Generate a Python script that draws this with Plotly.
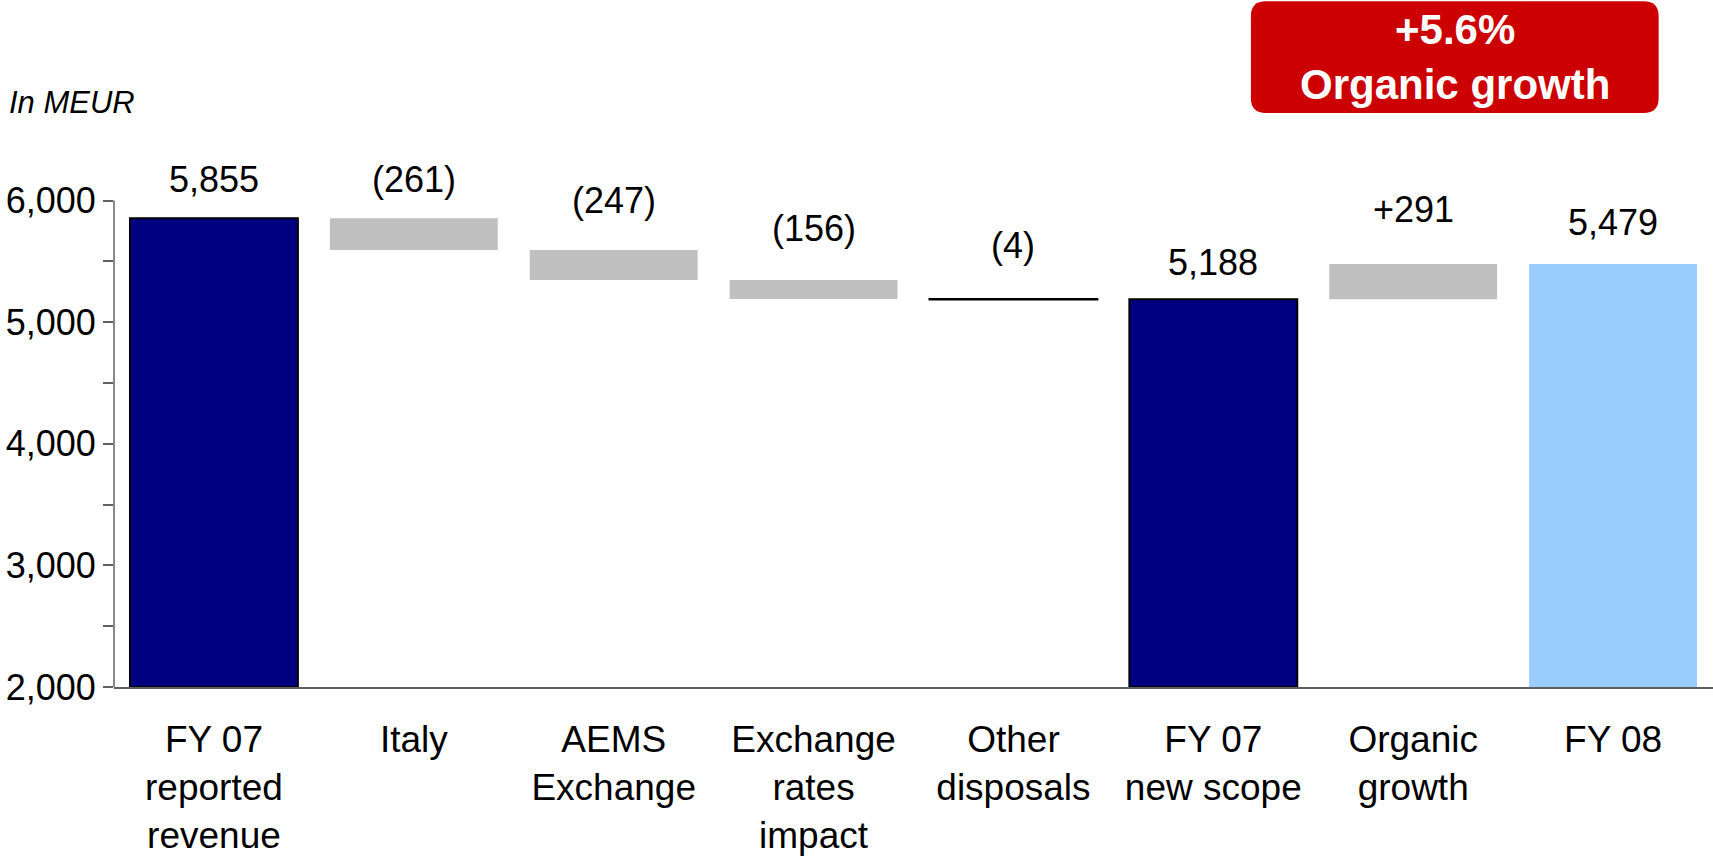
import plotly.graph_objects as go

# ---- data ----
categories = ["FY 07<br>reported<br>revenue", "Italy", "AEMS<br>Exchange",
              "Exchange<br>rates<br>impact", "Other<br>disposals",
              "FY 07<br>new scope", "Organic<br>growth", "FY 08"]
kinds = ["total", "delta", "delta", "delta", "delta", "total", "delta", "final"]
values = [5855, -261, -247, -156, -4, 5188, 291, 5479]
value_labels = ["5,855", "(261)", "(247)", "(156)", "(4)", "5,188", "+291", "5,479"]
y_ticks = [2000, 3000, 4000, 5000, 6000]
y_minor = [2500, 3500, 4500, 5500]
y_tick_text = ["2,000", "3,000", "4,000", "5,000", "6,000"]
badge_text = "+5.6%<br>Organic growth"
unit_text = "In MEUR"

# ---- styling ----
AXIS_MIN, AXIS_MAX = 2000, 7000
FONT = "Liberation Sans, Arial, sans-serif"
NAVY, GREY, LIGHT, RED = "#000080", "#C0C0C0", "#99CCFF", "#CC0000"
label_lift = [39, 39, 49, 52, 53, 37, 54, 41]  # px above bar top

# compute bar bottoms/tops from running total
bases, heights, tops = [], [], []
running = None
for k, v in zip(kinds, values):
    if k in ("total", "final"):
        bases.append(AXIS_MIN)
        heights.append(v - AXIS_MIN)
        tops.append(v)
        running = v
    else:
        new = running + v
        lo, hi = min(running, new), max(running, new)
        bases.append(lo)
        heights.append(hi - lo)
        tops.append(hi)
        running = new

colors, line_colors, line_widths = [], [], []
for k, v in zip(kinds, values):
    if k == "total":
        colors.append(NAVY); line_colors.append("black"); line_widths.append(2)
    elif k == "final":
        colors.append(LIGHT); line_colors.append(LIGHT); line_widths.append(0)
    elif abs(v) < 20:
        colors.append("black"); line_colors.append("black"); line_widths.append(2)
    else:
        colors.append(GREY); line_colors.append(GREY); line_widths.append(0)

fig = go.Figure(go.Bar(
    x=categories, y=heights, base=bases,
    marker=dict(color=colors, line=dict(color=line_colors, width=line_widths)),
    width=0.84, hoverinfo="skip", showlegend=False,
))

annotations = []
for c, t, lab, lift in zip(categories, tops, value_labels, label_lift):
    annotations.append(dict(x=c, y=t, xref="x", yref="y", text=lab, showarrow=False,
                            yanchor="middle", yshift=lift,
                            font=dict(family=FONT, size=36, color="black")))

annotations.append(dict(x=-0.0669, y=0.962, xref="paper", yref="paper", text="<i>" + unit_text + "</i>",
                        showarrow=False, xanchor="left", yanchor="middle",
                        font=dict(family=FONT, size=31, color="black")))
annotations.append(dict(x=0.8387, y=1.036, xref="paper", yref="paper", text="<b>" + badge_text + "</b>",
                        showarrow=False, xanchor="center", yanchor="middle",
                        font=dict(family=FONT, size=42, color="white")))

# rounded badge rectangle in paper coordinates
x0, x1, y0, y1 = 0.711, 0.966, 0.944, 1.128
rx, ry = 15 / 1599, 15 / 608
path = (f"M {x0+rx},{y1} L {x1-rx},{y1} Q {x1},{y1} {x1},{y1-ry} "
        f"L {x1},{y0+ry} Q {x1},{y0} {x1-rx},{y0} L {x0+rx},{y0} "
        f"Q {x0},{y0} {x0},{y0+ry} L {x0},{y1-ry} Q {x0},{y1} {x0+rx},{y1} Z")

shapes = [
    dict(type="path", xref="paper", yref="paper", path=path, fillcolor=RED,
         line=dict(width=0), layer="above"),
    dict(type="line", xref="paper", yref="y", x0=0, x1=0, y0=AXIS_MIN, y1=max(y_ticks),
         line=dict(color="#606060", width=1.5), layer="above"),
]

fig.update_layout(
    width=1713, height=856,
    margin=dict(l=114, r=0, t=79, b=169),
    paper_bgcolor="white", plot_bgcolor="white",
    bargap=0.16,
    annotations=annotations, shapes=shapes,
    xaxis=dict(showline=True, linecolor="#606060", linewidth=1.5, ticks="",
               showgrid=False, zeroline=False, fixedrange=True,
               tickfont=dict(family=FONT, size=37, color="black"),
               ticklabelstandoff=19),
    yaxis=dict(range=[AXIS_MIN, AXIS_MAX], showline=False, showgrid=False, zeroline=False,
               tickmode="array", tickvals=y_ticks, ticktext=y_tick_text,
               ticks="outside", ticklen=10, tickcolor="#606060", tickwidth=1.5,
               minor=dict(ticks="outside", ticklen=10, tickcolor="#606060", tickwidth=1.5,
                          tickmode="array", tickvals=y_minor, showgrid=False),
               tickfont=dict(family=FONT, size=36, color="black"),
               ticklabelstandoff=0),
)

fig.write_html("out.html")
